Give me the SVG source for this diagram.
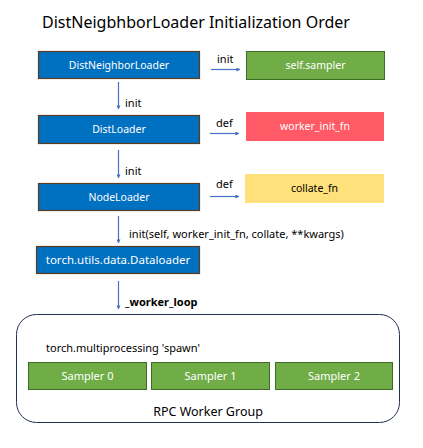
<svg xmlns="http://www.w3.org/2000/svg" width="423" height="448" viewBox="0 0 423 448">
<defs>
<marker id="ah" viewBox="0 0 10 10" refX="9" refY="5" markerWidth="4" markerHeight="4" orient="auto" markerUnits="userSpaceOnUse">
<path d="M0,0 L10,5 L0,10 z" fill="#4472C4"/>
</marker>
<style>
text{font-family:"Noto Sans","Open Sans","DejaVu Sans",sans-serif;}
.blue{fill:#0070C0;stroke:#5B3A1E;stroke-width:1.2;}
.grn{fill:#70AD47;stroke:#3E6B26;stroke-width:1;}
.wt{fill:#fff;font-size:10.5px;text-anchor:middle;}
.bt{fill:#000;font-size:10.5px;text-anchor:middle;}
.lbl{fill:#000;font-size:11px;}
.conn line{stroke:#4472C4;stroke-width:1.2;marker-end:url(#ah);}
</style>
</defs>
<rect width="423" height="448" fill="#fff"/>
<text x="42" y="28" font-size="16" fill="#000">DistNeigbhborLoader Initialization Order</text>

<g id="distneighborloader"><rect class="blue" x="38.5" y="51.5" width="161" height="27"/><text class="wt" x="119" y="68.5">DistNeighborLoader</text></g>
<g id="sampler"><rect class="grn" x="246.5" y="51.5" width="138" height="28"/><text class="wt" x="315.5" y="69">self.sampler</text></g>
<g id="distloader"><rect class="blue" x="38.5" y="115.5" width="161" height="28"/><text class="wt" x="119" y="133">DistLoader</text></g>
<g id="worker_init_fn"><rect x="246" y="112" width="138" height="29" fill="#FF5A65"/><text class="wt" x="315" y="130">worker_init_fn</text></g>
<g id="nodeloader"><rect class="blue" x="38.5" y="183.5" width="161" height="27"/><text class="wt" x="119" y="201">NodeLoader</text></g>
<g id="collate_fn"><rect x="245" y="174" width="139" height="29" fill="#FFE17C"/><text class="bt" x="314.5" y="192">collate_fn</text></g>
<g id="dataloader"><rect class="blue" x="36.5" y="246.5" width="163" height="27"/><text class="wt" x="118" y="264" style="font-size:11.5px">torch.utils.data.Dataloader</text></g>

<g id="rpc_worker_group">
<rect x="16.5" y="314.5" width="383" height="108" rx="20" ry="20" fill="none" stroke="#1F3050" stroke-width="1"/>
<text class="lbl" x="46" y="352">torch.multiprocessing 'spawn'</text>
<text x="208" y="416" font-size="12.5" fill="#000" text-anchor="middle">RPC Worker Group</text>
</g>
<g id="sampler0"><rect class="grn" x="28.5" y="362.5" width="118" height="27"/><text class="wt" x="87.5" y="380" style="font-size:11px">Sampler 0</text></g>
<g id="sampler1"><rect class="grn" x="151.5" y="362.5" width="118" height="27"/><text class="wt" x="210.5" y="380" style="font-size:11px">Sampler 1</text></g>
<g id="sampler2"><rect class="grn" x="275.5" y="362.5" width="117" height="27"/><text class="wt" x="334" y="380" style="font-size:11px">Sampler 2</text></g>

<g class="conn" id="connectors">
<line x1="211" y1="69.5" x2="240" y2="69.5"/>
<line x1="210" y1="133.5" x2="239" y2="133.5"/>
<line x1="210" y1="196.5" x2="239" y2="196.5"/>
<line x1="118.5" y1="82" x2="118.5" y2="109"/>
<line x1="118.5" y1="150" x2="118.5" y2="178"/>
<line x1="118.5" y1="216" x2="118.5" y2="243"/>
<line x1="118.5" y1="281" x2="118.5" y2="309"/>
<text class="lbl" x="217" y="63">init</text>
<text class="lbl" x="216" y="127">def</text>
<text class="lbl" x="216" y="188">def</text>
<text class="lbl" x="125" y="107">init</text>
<text class="lbl" x="125" y="175">init</text>
<text class="lbl" x="129" y="238">init(self, worker_init_fn, collate, **kwargs)</text>
<text class="lbl" x="125" y="306" font-weight="bold">_worker_loop</text>
</g>
</svg>
